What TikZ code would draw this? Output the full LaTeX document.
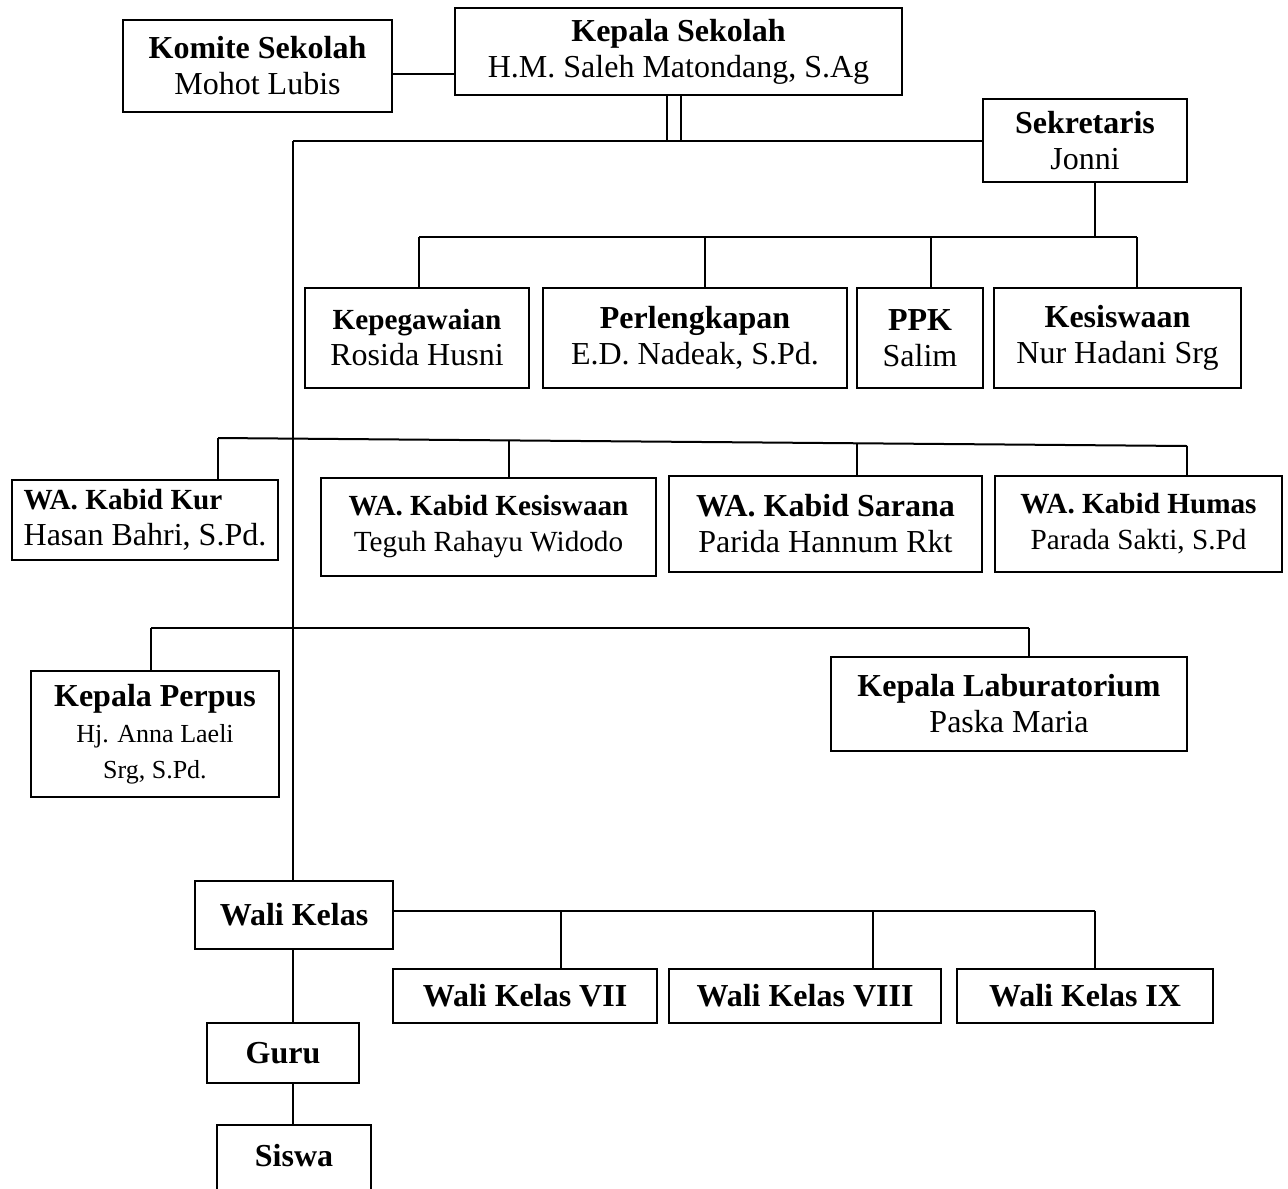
\documentclass[tikz,border=0pt]{standalone}
\usepackage{fontspec}
\setmainfont{Liberation Serif}
\newcommand{\kecil}{\fontsize{14.6}{18}\selectfont}
\newcommand{\mungil}{\fontsize{13}{16}\selectfont}

\begin{document}
\begin{tikzpicture}[
    x = 0.5pt, y = -0.5pt,
    every node/.style = {font=\fontsize{16}{18}\selectfont},
    box/.style 2 args = {rectangle, draw, line width=1.4pt, align=center,
                  inner sep=0pt, minimum width=#1*0.5pt, minimum height=#2*0.5pt},
    small/.style = {font=\kecil},
    link/.style  = {line width=1pt},
    thin/.style  = {line width=0.8pt}
  ]
  \useasboundingbox (0,0) rectangle (1288,1188);

  % nodes
  \node[box={269}{92}]  (komite) at (257.5,66)  {\textbf{Komite Sekolah}\\Mohot Lubis};
  \node[box={447}{87}]  (kepsek) at (678.5,51.5) {\textbf{Kepala Sekolah}\\H.M. Saleh Matondang, S.Ag};
  \node[box={204}{83}]  (sekre)  at (1085,140.5) {\textbf{Sekretaris}\\Jonni};

  \node[box={224}{100}] (pegawai) at (417,338)   {{\kecil\textbf{Kepegawaian}}\\Rosida Husni};
  \node[box={304}{100}] (lengkap) at (695,338)   {\textbf{Perlengkapan}\\E.D. Nadeak, S.Pd.};
  \node[box={126}{100}] (ppk)     at (920,338)   {\textbf{PPK}\\Salim};
  \node[box={247}{100}] (siswaan) at (1117.5,338) {\textbf{Kesiswaan}\\Nur Hadani Srg};

  \node[box={266}{80}, align=left] (kur) at (145,520) {{\kecil\textbf{WA. Kabid Kur}}\\Hasan Bahri, S.Pd.};
  \node[box={335}{98}, small] (wkes)   at (488.5,527)  {\textbf{WA. Kabid Kesiswaan}\\Teguh Rahayu Widodo};
  \node[box={313}{96}]        (sarana) at (825.5,524)  {\textbf{WA. Kabid Sarana}\\Parida Hannum Rkt};
  \node[box={287}{96}, small] (humas)  at (1138.5,524) {\textbf{WA. Kabid Humas}\\Parada Sakti, S.Pd};

  \node[box={248}{126}] (perpus) at (155,734)  {\textbf{Kepala Perpus}\\{\mungil Hj. Anna Laeli}\\{\mungil Srg, S.Pd.}};
  \node[box={356}{94}]  (lab)    at (1009,704) {\textbf{Kepala Laburatorium}\\Paska Maria};

  \node[box={198}{68}] (wali)  at (294,915)  {\textbf{Wali Kelas}};
  \node[box={264}{54}] (wali7) at (525,996)  {\textbf{Wali Kelas VII}};
  \node[box={272}{54}] (wali8) at (805,996)  {\textbf{Wali Kelas VIII}};
  \node[box={256}{54}] (wali9) at (1085,996) {\textbf{Wali Kelas IX}};
  \node[box={152}{60}] (guru)  at (283,1053) {\textbf{Guru}};
  \node[box={154}{90}, text depth=15pt] (siswa) at (294,1170) {\textbf{Siswa}};

  % junctions
  \coordinate (spine) at (293,141);
  \coordinate (kk) at (0,74);
  \coordinate (k1) at (667,141);
  \coordinate (k2) at (681,141);
  \coordinate (sb) at (1095,237);
  \coordinate (b1) at (419,237);
  \coordinate (b2) at (705,237);
  \coordinate (b3) at (931,237);
  \coordinate (b4) at (1137,237);
  \coordinate (c1) at (218,438);
  \coordinate (c2) at (509,440.4);
  \coordinate (c3) at (857,443.3);
  \coordinate (c4) at (1187,446);
  \coordinate (d1) at (151,628);
  \coordinate (d2) at (1029,628);
  \coordinate (e1) at (561,911);
  \coordinate (e2) at (873,911);
  \coordinate (e3) at (1095,911);

  % edges
  \draw[link] (komite.east |- kk) -- (kepsek.west |- kk);
  \draw[thin] (kepsek.south -| k1) -- (k1);
  \draw[thin] (kepsek.south -| k2) -- (k2);
  \draw[link] (spine) -- (spine -| sekre.west);
  \draw[link] (spine) -- (wali.north -| spine);

  \draw[link] (sekre.south -| sb) -- (sb);
  \draw[link] (b1) -- (b4);
  \draw[link] (b1) -- (pegawai.north -| b1);
  \draw[link] (b2) -- (lengkap.north -| b2);
  \draw[link] (b3) -- (ppk.north -| b3);
  \draw[link] (b4) -- (siswaan.north -| b4);

  \draw[link] (c1) -- (c4);
  \draw[link] (c1) -- (kur.north -| c1);
  \draw[link] (c2) -- (wkes.north -| c2);
  \draw[link] (c3) -- (sarana.north -| c3);
  \draw[link] (c4) -- (humas.north -| c4);

  \draw[link] (d1) -- (d2);
  \draw[link] (d1) -- (perpus.north -| d1);
  \draw[link] (d2) -- (lab.north -| d2);

  \draw[link] (wali.east |- e3) -- (e3);
  \draw[link] (e1) -- (wali7.north -| e1);
  \draw[link] (e2) -- (wali8.north -| e2);
  \draw[link] (e3) -- (wali9.north -| e3);
  \draw[link] (wali.south -| spine) -- (guru.north -| spine);
  \draw[link] (guru.south -| spine) -- (siswa.north -| spine);

\end{tikzpicture}
\end{document}
